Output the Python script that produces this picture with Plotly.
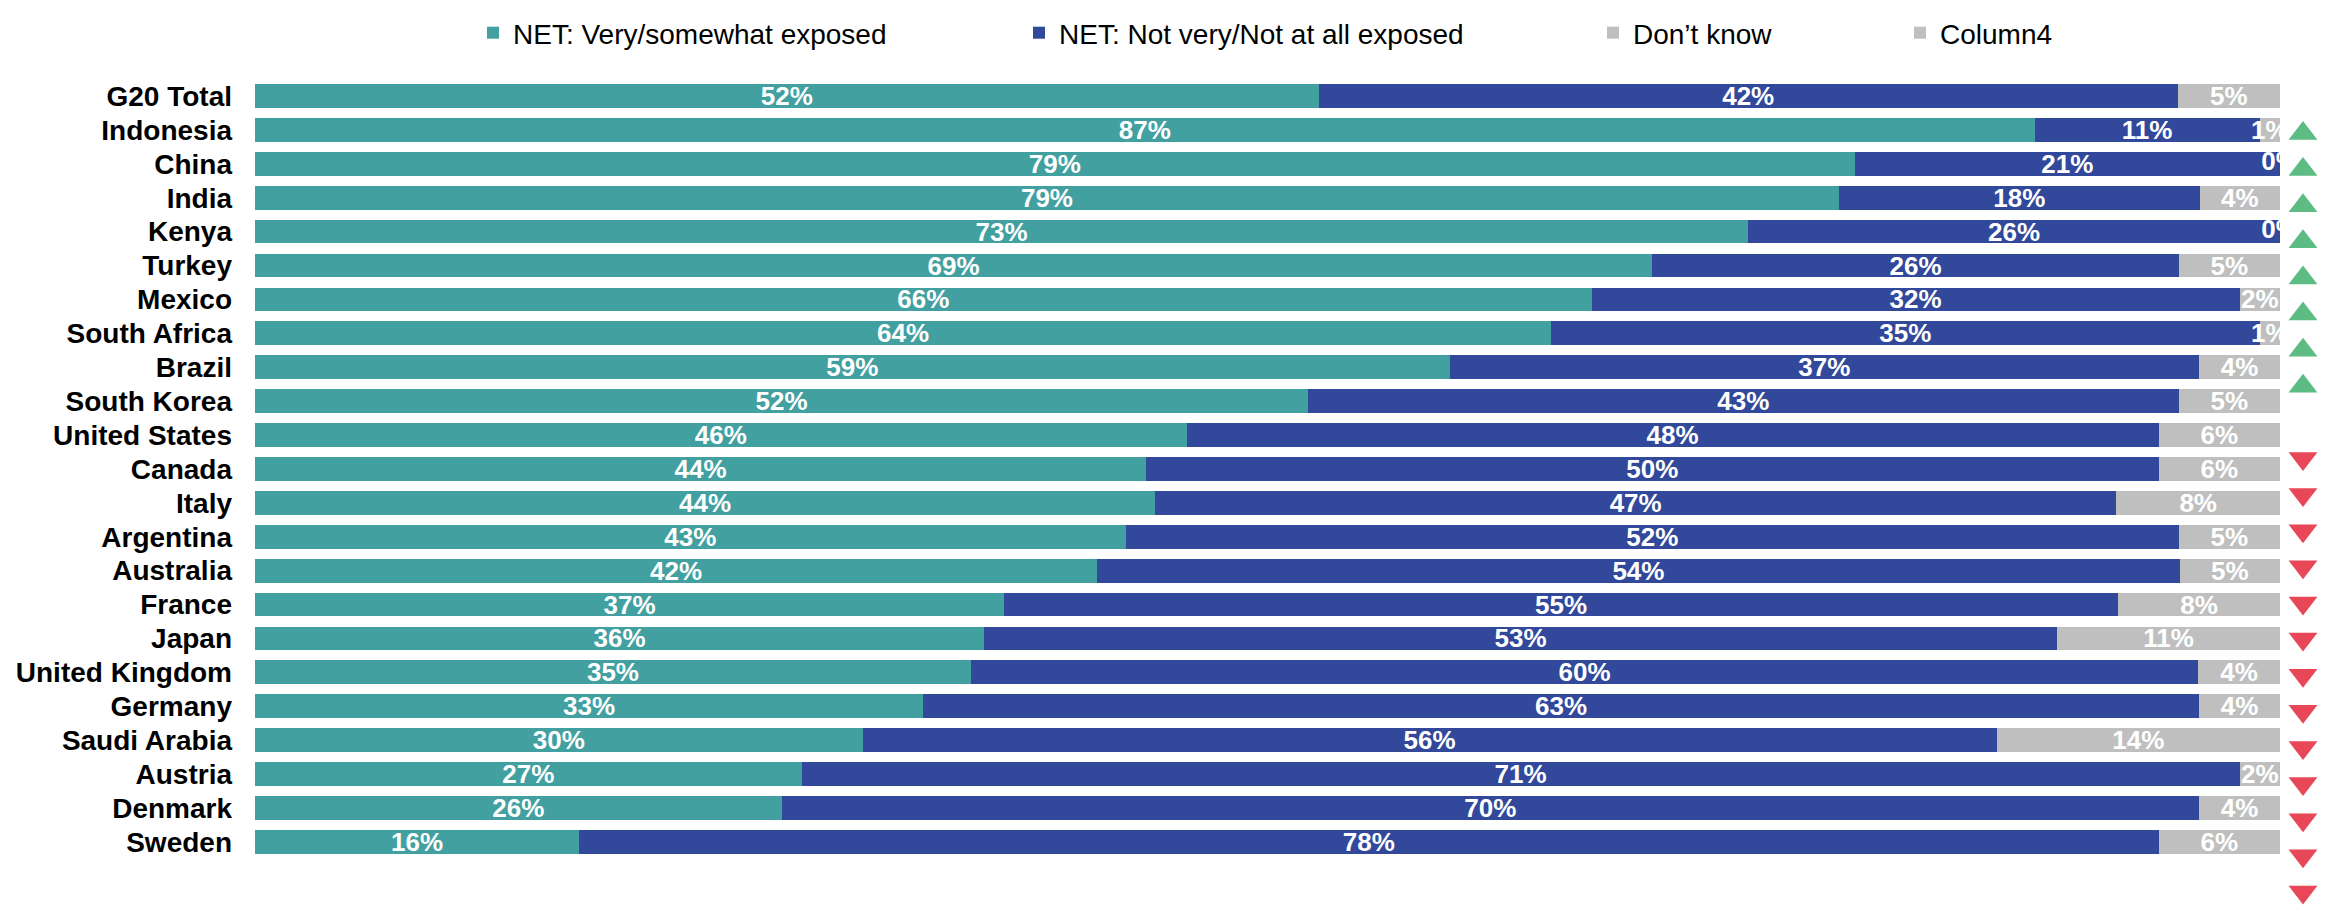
import plotly.graph_objects as go

# ---------------- data ----------------
countries = ["G20 Total", "Indonesia", "China", "India", "Kenya", "Turkey", "Mexico",
             "South Africa", "Brazil", "South Korea", "United States", "Canada", "Italy",
             "Argentina", "Australia", "France", "Japan", "United Kingdom", "Germany",
             "Saudi Arabia", "Austria", "Denmark", "Sweden"]
exposed = [52, 87, 79, 79, 73, 69, 66, 64, 59, 52, 46, 44, 44, 43, 42, 37, 36, 35, 33, 30, 27, 26, 16]
not_exposed = [42, 11, 21, 18, 26, 26, 32, 35, 37, 43, 48, 50, 47, 52, 54, 55, 53, 60, 63, 56, 71, 70, 78]
dont_know = [5, 1, 0, 4, 0, 5, 2, 1, 4, 5, 6, 6, 8, 5, 5, 8, 11, 4, 4, 14, 2, 4, 6]
column4 = [0] * len(countries)
# change vs G20 total
trend = ["", "up", "up", "up", "up", "up", "up", "up", "up", "",
         "down", "down", "down", "down", "down", "down", "down", "down", "down",
         "down", "down", "down", "down"]
series_names = ["NET: Very/somewhat exposed", "NET: Not very/Not at all exposed",
                "Don\u2019t know", "Column4"]
footnote = "* G20 average does not include Russia"

# ---------------- style ----------------
W, H = 2331, 905
OFF = 8  # page body margin: screen px -> figure px
TEAL, BLUE, GRAY = "#42A0A0", "#31489B", "#BFBFBF"
GREEN, RED = "#5DBB84", "#E84757"
FONT = "Liberation Sans, Arial, sans-serif"


def fx(px):
    return (px - OFF) / W


def fy(py):
    return 1 - (py - OFF) / H


def pct(vals):
    return [f"{v}%" if v else "" for v in vals]


fig = go.Figure()
series = [exposed, not_exposed, dont_know, column4]
colors = [TEAL, BLUE, GRAY, GRAY]
legends = ["legend", "legend2", "legend3", "legend4"]
for name, vals, col, lg in zip(series_names, series, colors, legends):
    fig.add_trace(go.Bar(
        y=countries, x=vals, name=name, orientation="h",
        marker=dict(color=col, line=dict(width=0)),
        text=pct(vals) if lg != "legend4" else None,
        textposition="inside", insidetextanchor="middle", constraintext="none",
        textangle=0, cliponaxis=False,
        textfont=dict(family=FONT, size=26, color="white", weight="bold"),
        legend=lg, hoverinfo="skip",
    ))

# labels for zero-width "Don't know" segments (drawn at the segment position)
zero_rows = [i for i, v in enumerate(dont_know) if v == 0]
zx = [(exposed[i] + not_exposed[i] + dont_know[i] / 2) /
      (exposed[i] + not_exposed[i] + dont_know[i]) * 100 for i in zero_rows]
fig.add_trace(go.Scatter(
    x=zx, y=[countries[i] for i in zero_rows], mode="text",
    text=[f"{dont_know[i]}%" for i in zero_rows],
    textfont=dict(family=FONT, size=26, color="white", weight="bold"),
    showlegend=False, hoverinfo="skip", cliponaxis=False,
))

# trend triangles
tri_rows = countries[1:]
for direction, sym, col in [("up", "triangle-up", GREEN), ("down", "triangle-down", RED)]:
    ys = [c for c, t in zip(countries, trend) if t == direction]
    fig.add_trace(go.Scatter(
        x=["trend"] * len(ys), y=ys, mode="markers",
        marker=dict(symbol=sym, size=25, color=col, line=dict(width=0)),
        xaxis="x2", yaxis="y2", showlegend=False, hoverinfo="skip", cliponaxis=False,
    ))

# ---------------- layout ----------------
row0, pitch = 85 - OFF, 34.36      # main rows: centre of first row, row spacing (px)
a = -row0 / pitch
b = a + H / pitch
t0, tpitch = 123 - OFF, 36.6       # triangle column
a2 = -t0 / tpitch
b2 = a2 + H / tpitch

leg_common = dict(orientation="h", yanchor="middle", y=fy(21), xanchor="left",
                  font=dict(family=FONT, size=28, color="#000000"),
                  itemwidth=30, bgcolor="rgba(0,0,0,0)", borderwidth=0,
                  itemclick=False, itemdoubleclick=False)
# screen x of legend symbol centres minus symbol offset inside a legend item
leg_x = [493 - 20, 1039 - 20, 1613 - 20, 1920 - 20]

fig.update_layout(
    width=W, height=H,
    margin=dict(l=0, r=0, t=0, b=0),
    paper_bgcolor="white", plot_bgcolor="white",
    barmode="stack", barnorm="percent", bargap=0.30,
    font=dict(family=FONT, color="#000000"),
    xaxis=dict(domain=[fx(255), fx(2280.02)], range=[0, 100.001], visible=False,
               fixedrange=True),
    yaxis=dict(domain=[0, 1], type="category", categoryorder="array",
               categoryarray=countries, range=[b, a], showgrid=False, zeroline=False,
               showline=False, ticks="", ticklabelstandoff=22,
               tickmode="array", tickvals=countries, ticktext=countries,
               tickfont=dict(family=FONT, size=28, color="#000000", weight="bold")),
    xaxis2=dict(domain=[fx(2286), fx(2320)], type="category", visible=False,
                anchor="y2", fixedrange=True),
    yaxis2=dict(domain=[0, 1], type="category", categoryorder="array",
                categoryarray=tri_rows, range=[b2, a2], visible=False,
                anchor="x2", fixedrange=True),
    legend=dict(x=fx(leg_x[0]), **leg_common),
    legend2=dict(x=fx(leg_x[1]), **leg_common),
    legend3=dict(x=fx(leg_x[2]), **leg_common),
    legend4=dict(x=fx(leg_x[3]), **leg_common),
    showlegend=True,
    annotations=[dict(text=f"<i>{footnote}</i>", xref="paper", yref="paper",
                      x=fx(12), y=fy(901), xanchor="left", yanchor="top",
                      showarrow=False, font=dict(family=FONT, size=22, color="#595959"))],
)

fig.write_html("out.html")
